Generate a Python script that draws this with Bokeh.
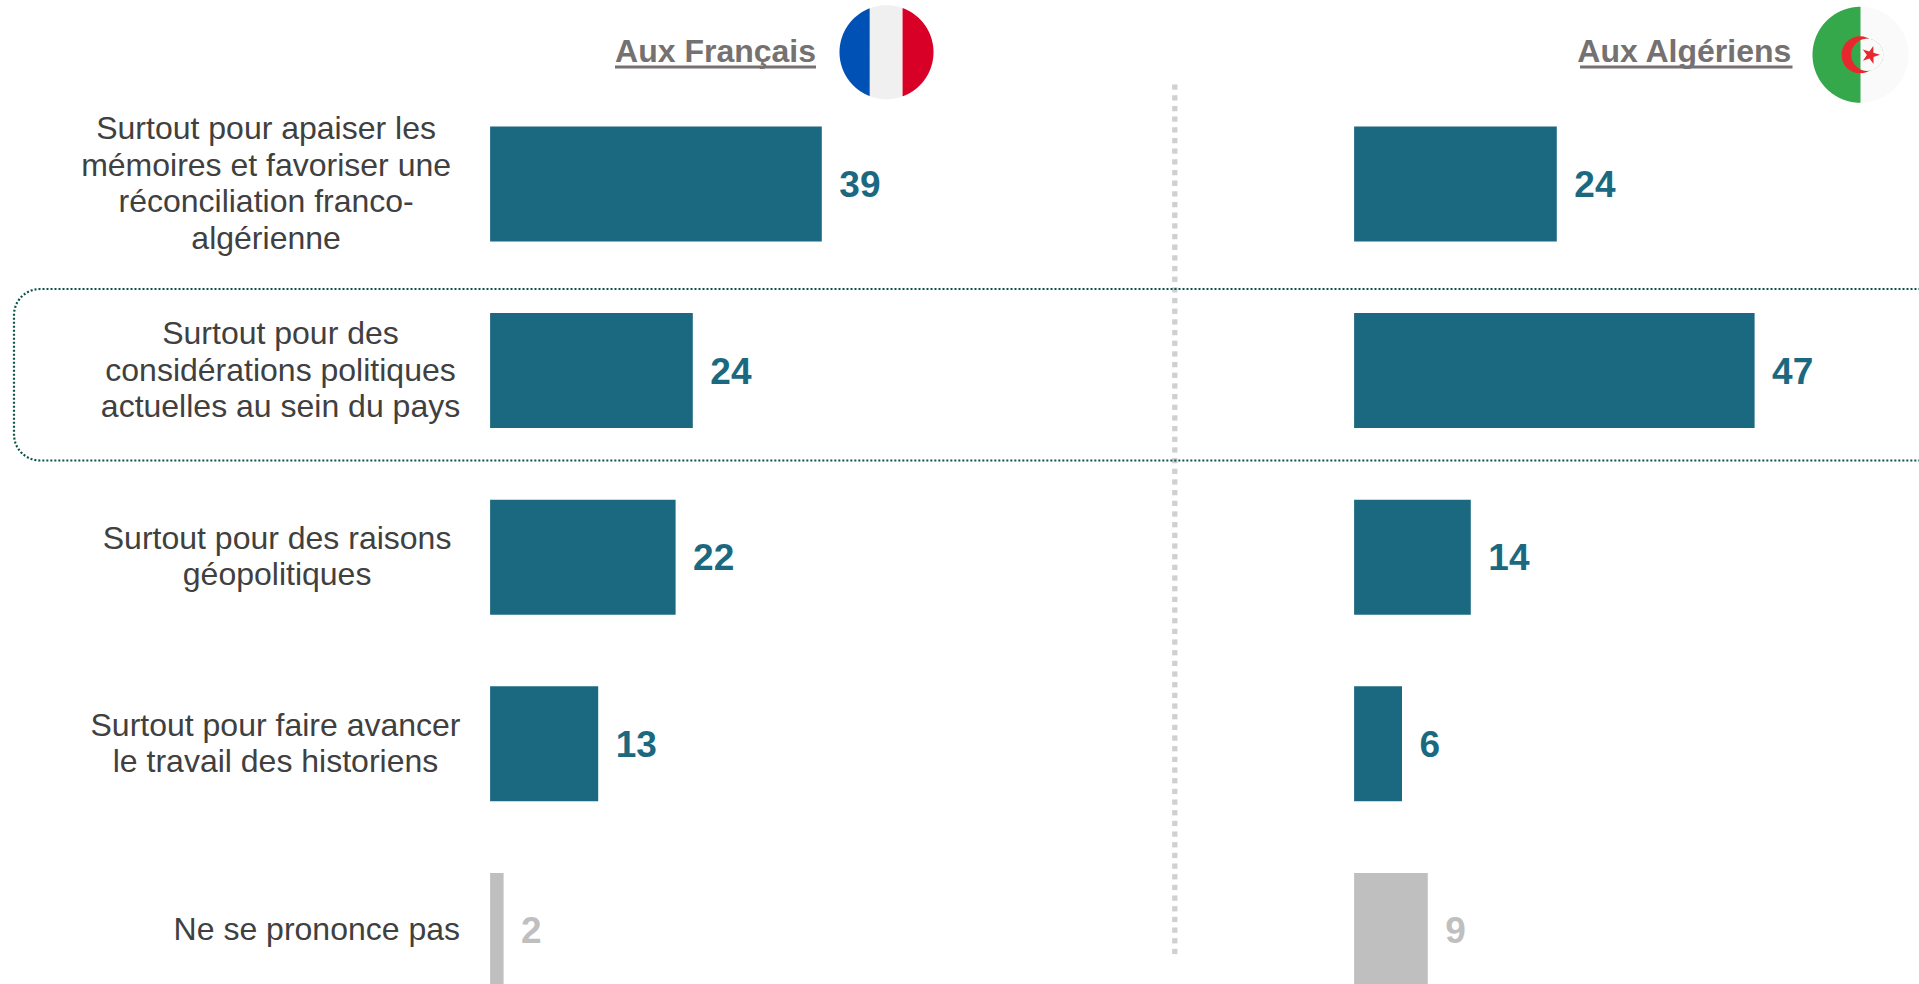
import numpy as np
from bokeh.plotting import figure
from bokeh.models import Range1d
from bokeh.embed import file_html
from bokeh.resources import INLINE
from bokeh.core.properties import value

W, H = 1919, 984

label_lines = [
    ["Surtout pour apaiser les", "mémoires et favoriser une", "réconciliation franco-", "algérienne"],
    ["Surtout pour des", "considérations politiques", "actuelles au sein du pays"],
    ["Surtout pour des raisons", "géopolitiques"],
    ["Surtout pour faire avancer", "le travail des historiens"],
    ["Ne se prononce pas"],
]
francais = [39, 24, 22, 13, 2]
algeriens = [24, 47, 14, 6, 9]
is_muted = [False, False, False, False, True]
header_fr = "Aux Français"
header_dz = "Aux Algériens"

TEAL = "#1b6980"
GREY = "#bfbfbf"
TEXT = "#404040"
HEAD = "#767171"

PER_UNIT = 8.60
BASE = 0.43  # bars start slightly above the scale's zero
ZERO_FR, ZERO_DZ = 485.9, 1349.9
ROW0, PITCH = 183.5, 186.6
BAR_H = 115 / PITCH
label_anchor = [(265.6, "center"), (280.0, "center"), (276.6, "center"), (275.0, "center"), (459.5, "right")]
LINE_H = 36.5

p = figure(width=W, height=H, output_backend="svg", toolbar_location=None,
           x_range=Range1d(0, W), y_range=Range1d(H, 0), min_border=0,
           x_axis_type=None, y_axis_type=None)
p.outline_line_color = None
p.grid.visible = False
p.background_fill_color = "white"
p.extra_x_ranges = {
    "fr": Range1d(-ZERO_FR / PER_UNIT, (W - ZERO_FR) / PER_UNIT),
    "dz": Range1d(-ZERO_DZ / PER_UNIT, (W - ZERO_DZ) / PER_UNIT),
}
p.extra_y_ranges = {"rows": Range1d((H - ROW0) / PITCH, -ROW0 / PITCH)}

# bars and values
rows = list(range(len(francais)))
for rng, vals in (("fr", francais), ("dz", algeriens)):
    cols = [GREY if m else TEAL for m in is_muted]
    p.hbar(y=rows, left=BASE, right=vals, height=BAR_H, color=cols, line_color=None,
           x_range_name=rng, y_range_name="rows")
    p.text(x=vals, y=rows, text=[str(v) for v in vals], x_offset=17.5, y_offset=0,
           text_font=value("Liberation Sans"), text_font_style="bold", text_font_size="37px",
           text_color=cols, text_align="left", text_baseline="middle",
           x_range_name=rng, y_range_name="rows")

# category labels
for i, lines in enumerate(label_lines):
    xa, al = label_anchor[i]
    n = len(lines)
    for j, t in enumerate(lines):
        p.text(x=[xa], y=[ROW0 - 1 + i * PITCH + (j - (n - 1) / 2) * LINE_H], text=[t],
               text_font=value("Liberation Sans"), text_font_size="32px",
               text_color=TEXT, text_align=al, text_baseline="middle")

# centre divider
dots = np.arange(86.7, 953, 10.67)
p.scatter([1174.3] * len(dots), dots, marker="square", size=5.3, fill_color="#d0d0d0", line_color=None)

# highlight frame
L, T, B, R0 = 13.5, 288.5, 460, 26
a = np.linspace(0, np.pi / 2, 24)
fx = np.r_[W + 5, L + R0 - R0 * np.sin(a), L + R0 - R0 * np.cos(a), W + 5]
fy = np.r_[T, T + R0 - R0 * np.cos(a), B - R0 + R0 * np.sin(a), B]
p.line(fx, fy, line_color="#0b5345", line_width=2.2, line_dash="2 2")

# headers
for t, right, ul_left in ((header_fr, 815.5, 614.5), (header_dz, 1792, 1579.5)):
    p.text(x=[right], y=[50], text=[t], text_font=value("Liberation Sans"),
           text_font_style="bold", text_font_size="32px", text_color=HEAD,
           text_align="right", text_baseline="middle")
    p.line([ul_left, right], [66.5] * 2, line_color=HEAD, line_width=3)

# flags
def band(cx, cy, r, x0, x1):
    t = np.linspace(0, 2 * np.pi, 721)
    xs, ys = cx + r * np.cos(t), cy + r * np.sin(t)
    keep = (xs >= x0) & (xs <= x1)
    xs, ys = xs[keep], ys[keep]
    order = np.argsort(np.arctan2(ys - cy, xs - (x0 + x1) / 2))
    return xs[order], ys[order]

cx, cy, r = 886, 51.7, 47
for x0, x1, c in ((cx - r, 869.3, "#0051b5"), (869.3, 902, "#f0f0f0"), (902, cx + r, "#d80027")):
    xs, ys = band(cx, cy, r, x0, x1)
    p.patch(xs, ys, fill_color=c, line_color=None)

cx, cy, r = 1860, 54.3, 48
p.circle([cx], [cy], radius=r, fill_color="#fafafa", line_color=None)
xs, ys = band(cx, cy, r, cx - r, cx)
p.patch(xs, ys, fill_color="#34a84a", line_color=None)
p.circle([1859.5], [cy], radius=18.5, fill_color="#e8282e", line_color=None)
p.circle([1866.7], [cy], radius=16, fill_color="#34a84a", line_color=None)
xs, ys = band(1866.7, cy, 16.1, cx, cx + 30)
p.patch(xs, ys, fill_color="#fafafa", line_color=None)
p.scatter([1870], [54.5], marker="star", size=19, angle=-0.3, fill_color="#e8282e", line_color=None)

open("out.html", "w").write(file_html(p, INLINE))
